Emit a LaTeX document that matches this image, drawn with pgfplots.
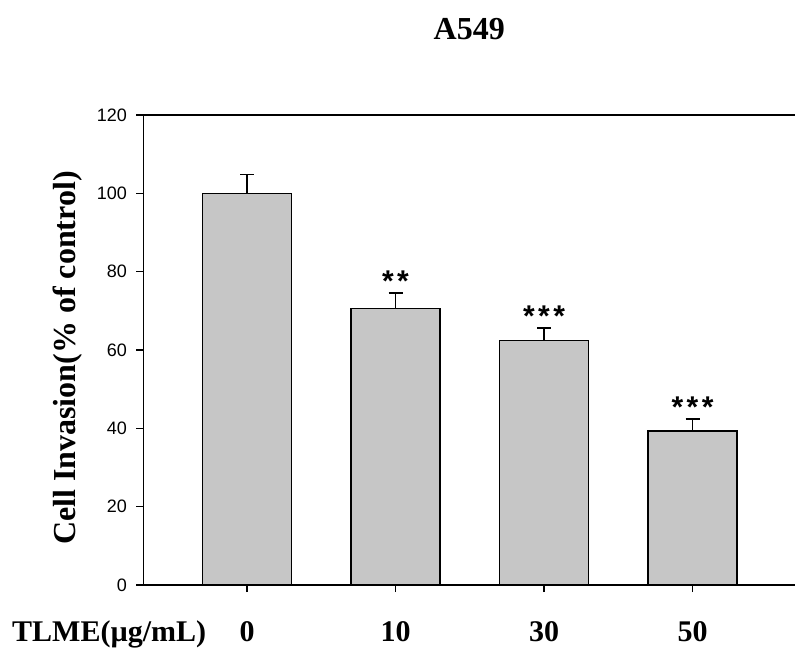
\documentclass[border=0pt]{standalone}
\usepackage{fontspec}
\setmainfont{Liberation Sans}
\newfontfamily\tnr{Liberation Serif}
\usepackage{pgfplots}
\pgfplotsset{compat=1.18}
\definecolor{barfill}{RGB}{198,198,198}
\begin{document}
\begin{tikzpicture}
\useasboundingbox (-143.5pt,-85pt) rectangle (651.5pt,585pt);
\begin{axis}[
    at={(0,0)}, anchor=south west,
    scale only axis,
    width=651.5pt, height=470pt,
    xmin=-0.697, xmax=3.69,
    ymin=0, ymax=120,
    axis x line*=box, axis y line*=left,
    axis line style={-, line width=1.6pt},
    xtick={0,1,2,3}, xticklabels={0,10,30,50},
    ytick={0,20,...,120},
    xtick pos=left, ytick pos=left,
    tick align=outside, major tick length=7pt,
    tick style={line width=1.4pt, black},
    /pgf/number format/assume math mode=true,
    yticklabel style={font=\fontsize{18}{18}\selectfont, xshift=-6pt},
    xticklabel style={font=\tnr\bfseries\fontsize{30}{30}\selectfont, anchor=base, yshift=-49pt},
    clip=false,
]
\addplot[ybar, bar width=89pt, bar shift=0pt, fill=barfill, draw=black, line width=1.6pt,
    error bars/.cd, y dir=plus, y explicit,
    error bar style={line width=1.6pt},
    error mark options={rotate=90, mark size=7pt, line width=1.6pt}]
coordinates {
    (0,100.0) +- (0,4.8)
    (1,70.6) +- (0,3.9)
    (2,62.4) +- (0,3.2)
    (3,39.3) +- (0,3.1)
};
\node[anchor=base, yshift=1.6pt, font=\bfseries\fontsize{30}{30}\selectfont] at (axis cs:1,74.5) {*\hspace{3.5pt}*};
\node[anchor=base, yshift=1.6pt, font=\bfseries\fontsize{30}{30}\selectfont] at (axis cs:2,65.6) {*\hspace{3.5pt}*\hspace{3.5pt}*};
\node[anchor=base, yshift=1.6pt, font=\bfseries\fontsize{30}{30}\selectfont] at (axis cs:3,42.4) {*\hspace{3.5pt}*\hspace{3.5pt}*};
\node[anchor=base, yshift=75pt, font=\tnr\bfseries\fontsize{32}{32}\selectfont] at (rel axis cs:0.5,1) {A549};
\node[anchor=base west, xshift=-131.5pt, yshift=-56pt, inner sep=0pt, font=\tnr\bfseries\fontsize{30}{30}\selectfont] at (rel axis cs:0,0) {TLME(µg/mL)};
\node[xshift=-68pt, anchor=base, rotate=90, font=\tnr\bfseries\fontsize{32}{32}\selectfont] at (rel axis cs:0,0.483) {Cell Invasion(\% of control)};
\end{axis}
\end{tikzpicture}
\end{document}
